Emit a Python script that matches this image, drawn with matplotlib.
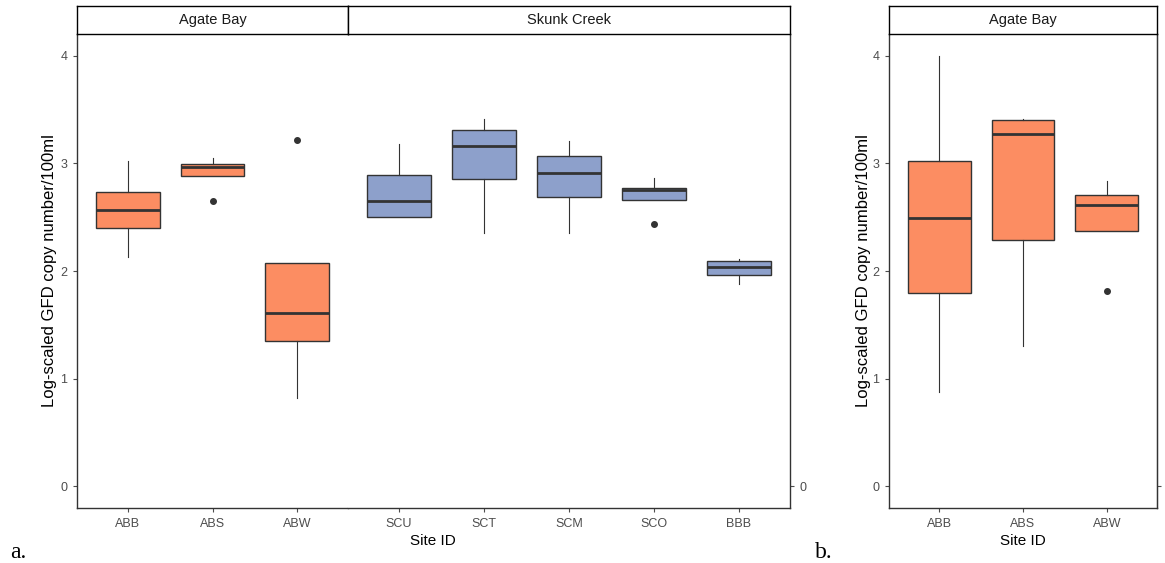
import numpy as np
import matplotlib
matplotlib.use("Agg")
import matplotlib.pyplot as plt

plt.rcParams['font.family'] = ['Liberation Sans', 'DejaVu Sans']

# ---- data ----
# panel a, Agate Bay
ab_sites = ["ABB", "ABS", "ABW"]
ab_lo = [2.13, 2.88, 0.82]
ab_q1 = [2.40, 2.88, 1.35]
ab_med = [2.57, 2.97, 1.61]
ab_q3 = [2.73, 2.995, 2.07]
ab_hi = [3.02, 3.05, 2.07]
ab_out = [[], [2.65], [3.22]]

# panel a, Skunk Creek
sc_sites = ["SCU", "SCT", "SCM", "SCO", "BBB"]
sc_lo = [2.50, 2.35, 2.35, 2.66, 1.88]
sc_q1 = [2.50, 2.85, 2.69, 2.66, 1.96]
sc_med = [2.65, 3.16, 2.91, 2.75, 2.04]
sc_q3 = [2.89, 3.31, 3.07, 2.77, 2.09]
sc_hi = [3.18, 3.41, 3.21, 2.86, 2.11]
sc_out = [[], [], [], [2.44], []]

# panel b, Agate Bay
b_sites = ["ABB", "ABS", "ABW"]
b_lo = [0.88, 1.30, 2.37]
b_q1 = [1.80, 2.29, 2.37]
b_med = [2.49, 3.27, 2.61]
b_q3 = [3.02, 3.40, 2.71]
b_hi = [4.00, 3.41, 2.84]
b_out = [[], [], [1.81]]

ORANGE = "#FC8D62"
BLUE = "#8DA0CB"
EDGE = "#333333"
TICKC = "#4D4D4D"
YLAB = "Log-scaled GFD copy number/100ml"

W, H = 1165, 563
fig = plt.figure(figsize=(W / 100, H / 100), dpi=100)


def px_axes(x0, x1, y0=34, y1=508):
    return fig.add_axes([x0 / W, (H - y1) / H, (x1 - x0) / W, (y1 - y0) / H])


def draw_boxes(ax, sites, lo, q1, med, q3, hi, out, color):
    stats = []
    for i in range(len(sites)):
        stats.append(dict(whislo=lo[i], q1=q1[i], med=med[i], q3=q3[i],
                          whishi=hi[i], fliers=out[i]))
    ax.bxp(stats, positions=np.arange(len(sites)), widths=0.75,
           patch_artist=True, showcaps=False,
           boxprops=dict(facecolor=color, edgecolor=EDGE, linewidth=1.0),
           medianprops=dict(color=EDGE, linewidth=2.0),
           whiskerprops=dict(color=EDGE, linewidth=0.8),
           flierprops=dict(marker='o', markerfacecolor=EDGE,
                           markeredgecolor=EDGE, markersize=4))
    ax.set_xlim(-0.6, len(sites) - 0.4)
    ax.set_ylim(-0.2, 4.2)
    ax.set_xticks(np.arange(len(sites)))
    ax.set_xticklabels(sites)
    ax.spines["top"].set_visible(False)
    for s in ax.spines.values():
        s.set_color(EDGE)
        s.set_linewidth(1.0)
    ax.tick_params(colors=TICKC, labelsize=9, length=3, width=0.8,
                   labelcolor=TICKC, pad=4)


def strip(x0, x1, label):
    sa = fig.add_axes([x0 / W, (H - 34) / H, (x1 - x0) / W, 28 / H])
    sa.set_xticks([])
    sa.set_yticks([])
    for s in sa.spines.values():
        s.set_color("black")
        s.set_linewidth(1.0)
    sa.text(0.5, 0.5, label, ha="center", va="center", fontsize=10.5,
            color="#1A1A1A", transform=sa.transAxes)


def xlab(ax, xfrac):
    ax.set_xlabel("Site ID", fontsize=11, color="black", va="center")
    ax.xaxis.set_label_coords(xfrac, -0.07)


# panel a
ax1 = px_axes(77, 348)
draw_boxes(ax1, ab_sites, ab_lo, ab_q1, ab_med, ab_q3, ab_hi, ab_out, ORANGE)
ax1.spines["right"].set_visible(False)
ax1.set_yticks([0, 1, 2, 3, 4])
ax1.set_ylabel(YLAB, fontsize=12, color="black")
ax1.yaxis.set_label_coords(-0.072, 0.5)

ax2 = px_axes(348, 790)
draw_boxes(ax2, sc_sites, sc_lo, sc_q1, sc_med, sc_q3, sc_hi, sc_out, BLUE)
ax2.spines["left"].set_visible(False)
ax2.yaxis.tick_right()
ax2.set_yticks([0])
xlab(ax2, (433 - 348) / (790 - 348))

strip(77, 348, "Agate Bay")
strip(348, 790, "Skunk Creek")

# panel b
ax3 = px_axes(889, 1157)
draw_boxes(ax3, b_sites, b_lo, b_q1, b_med, b_q3, b_hi, b_out, ORANGE)
ax3.set_yticks([0, 1, 2, 3, 4])
ax3.set_ylabel(YLAB, fontsize=12, color="black")
ax3.yaxis.set_label_coords(-0.068, 0.5)
xlab(ax3, 0.5)
sec = ax3.secondary_yaxis("right")
sec.set_yticks([0])
sec.tick_params(colors=TICKC, labelsize=9, length=3, width=0.8)
sec.spines["right"].set_color(EDGE)
strip(889, 1157, "Agate Bay")

fig.text(10 / W, 1 - 558 / H, "a.", family="Liberation Serif", fontsize=17,
         ha="left", va="baseline")
fig.text(815 / W, 1 - 558 / H, "b.", family="Liberation Serif", fontsize=17,
         ha="left", va="baseline")

fig.savefig("out.png", dpi=100, facecolor="white")
